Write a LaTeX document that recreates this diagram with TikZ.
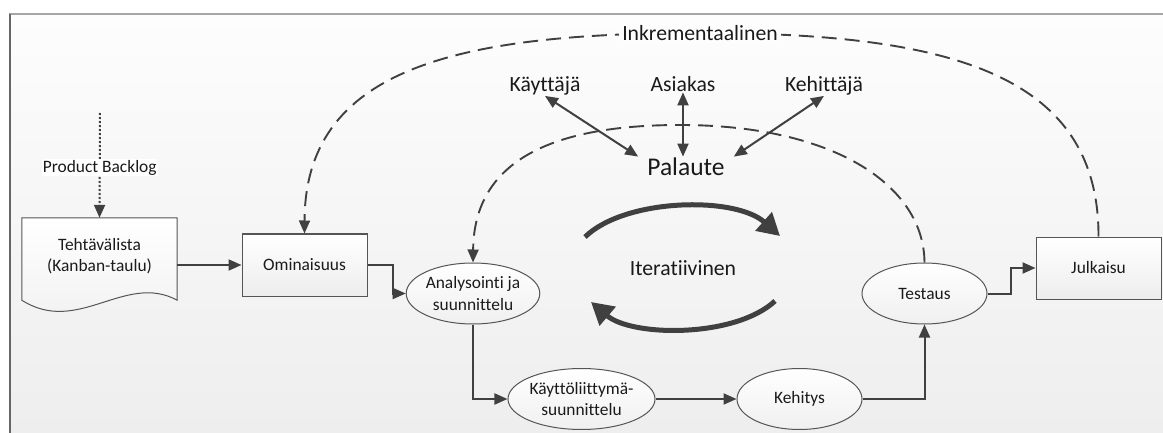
\documentclass[tikz,border=0pt]{standalone}
\usepackage{fontspec}
\setmainfont{Carlito}[Ligatures={NoCommon}]
\usetikzlibrary{arrows.meta,shapes.geometric}
\definecolor{ln}{HTML}{404040}
\definecolor{bd}{HTML}{555555}
\definecolor{tx}{HTML}{1A1A1A}
\definecolor{bgtop}{HTML}{FDFDFD}
\definecolor{bgbot}{HTML}{EEEEEE}
\newcommand{\smallfs}{\fontsize{17.4}{21.5}\selectfont}
\newcommand{\bigfs}{\fontsize{21.7}{26}\selectfont}
\newcommand{\palfs}{\fontsize{25.5}{30}\selectfont}
\begin{document}
\begin{tikzpicture}[x=1pt,y=-1pt,
  tip/.style={-{Triangle[length=13pt,width=11pt]}},
  conn/.style={draw=ln, line width=2pt, tip},
  bi/.style={draw=ln, line width=2pt, {Triangle[length=13pt,width=11pt]}-{Triangle[length=13pt,width=11pt]}},
  dashline/.style={draw=ln, line width=1.9pt, dash pattern=on 15pt off 8pt},
  iter/.style={draw=ln, line width=5pt, -{Triangle[length=22pt,width=24pt]}},
  boxnode/.style={draw=bd, line width=1pt, top color=white, bottom color=gray!14, minimum width=125pt, minimum height=62pt, inner sep=0pt, text=tx, font=\smallfs, align=center},
  ellnode/.style={ellipse, draw=bd, line width=1pt, top color=white, bottom color=gray!12, minimum width=125pt, minimum height=61pt, inner sep=0pt, text=tx, font=\smallfs, align=center},
  biglabel/.style={text=tx, font=\bigfs, inner sep=0pt, anchor=base}
]
\useasboundingbox (0,0) rectangle (1163,433);
% background
\fill[white] (0,0) rectangle (1163,433);
\shade[top color=bgtop, bottom color=bgbot] (9,14) rectangle (1163,433);
\draw[color=gray!70, line width=2pt] (9,14) -- (1163,14);
\draw[color=gray!80!black, line width=2pt] (9.5,14) -- (9.5,433);

% Tehtavalista document shape
\node[minimum width=155pt, minimum height=82pt, inner sep=0pt] (teh) at (99.5,259) {};
\draw[draw=bd, line width=1pt, top color=white, bottom color=gray!12]
  (teh.north west) -- (teh.north east) -- (teh.south east)
  .. controls (125,272) and (78,336) .. (teh.south west) -- cycle;
\node[text=tx, font=\smallfs, align=center] at (99.5,256) {Tehtävälista\\(Kanban-taulu)};

% nodes
\node[boxnode] (omi) at (304.5,265) {Ominaisuus};
\node[ellnode] (ana) at (473,293.5) {Analysointi ja\\suunnittelu};
\node[ellnode] (kl) at (581.5,399) {Käyttöliittymä-\\suunnittelu};
\node[ellnode] (keh) at (799.5,399) {Kehitys};
\node[ellnode] (tes) at (924.5,293.5) {Testaus};
\node[boxnode] (jul) at (1098.5,268) {Julkaisu};

\node[biglabel] (kay) at (545,92) {Käyttäjä};
\node[biglabel] (asi) at (683,92) {Asiakas};
\node[biglabel] (kht) at (824,92) {Kehittäjä};
\node[text=tx, font=\palfs, anchor=base, inner xsep=9pt, inner ysep=1.5pt] (pal) at (686,176) {Palaute};
\node[text=tx, font=\bigfs] (itr) at (683,268) {Iteratiivinen};

% product backlog
\coordinate (pb) at (100,113);
\draw[draw=ln, line width=2pt, dash pattern=on 2pt off 2pt, tip] (pb) -- (teh.north)
  node[pos=0.52, fill=white, text=tx, font=\smallfs, inner sep=1pt] {Product Backlog};

% connectors
\draw[conn] (teh.east |- omi.west) -- (omi.west);
\draw[conn] (omi.east) -- ++(25,0) |- (ana.west);
\draw[conn] (ana.south) |- (kl.west);
\draw[conn] (kl) -- (keh);
\draw[conn] (keh.east) -| (tes.south);
\draw[conn] (tes.east) -- ++(23,0) |- (jul.west);

% feedback arrows
\draw[bi] (kay.south) -- (pal.north west);
\draw[bi] (asi.south) -- (asi.south |- pal.north);
\draw[bi] (kht.south) -- (pal.north east);

% dashed curves
\draw[dashline, tip] (tes.north) .. controls (924,186) and (835,125) .. (680,125)
  .. controls (555,125) and (474,159) .. (ana.north);
\draw[dashline, tip] (jul.north) .. controls (1099,73) and (947,33) .. (700,33)
  node[fill=bgtop, text=tx, font=\bigfs, inner xsep=3pt, inner ysep=2pt] (ink) {Inkrementaalinen}
  .. controls (453,33) and (305,70) .. (omi.north);

% iterative arcs
\coordinate (i1) at (585,237);
\coordinate (i2) at (780,236);
\coordinate (i3) at (775,301);
\coordinate (i4) at (591,302);
\draw[iter] (i1) .. controls (625,198) and (735,196) .. (i2);
\draw[iter] (i3) .. controls (735,338) and (632,337) .. (i4);
\end{tikzpicture}
\end{document}
